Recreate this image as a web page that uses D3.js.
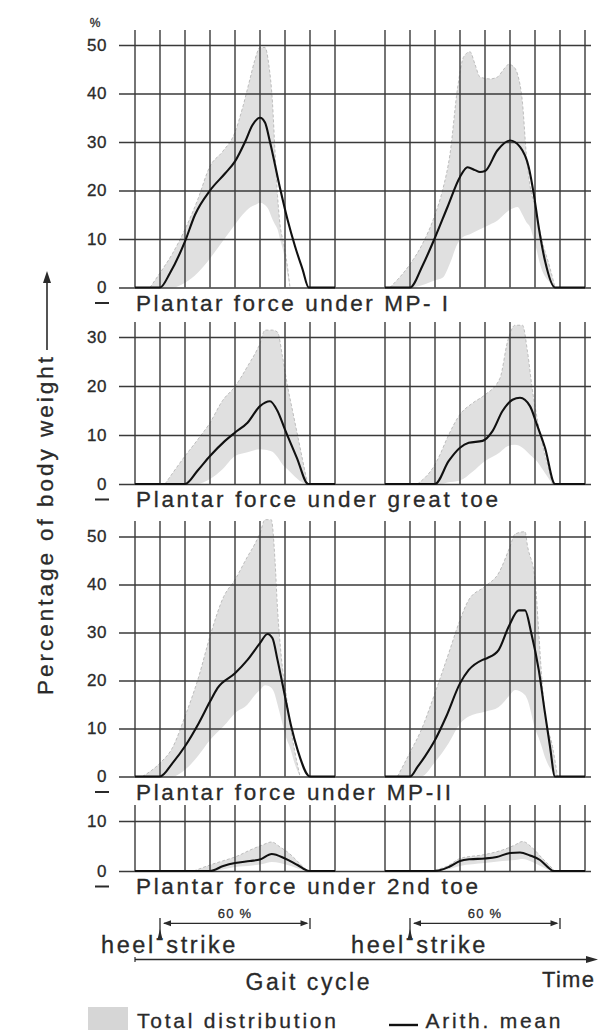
<!DOCTYPE html>
<html>
<head>
<meta charset="utf-8">
<script src="https://cdn.jsdelivr.net/npm/d3@7"></script>
<style>
  html, body { margin: 0; padding: 0; background: #fff; }
  svg { display: block; font-family: "Liberation Sans", Arial, Helvetica, sans-serif; }
  text { stroke: #2a2a2a; stroke-width: 0.3; }
</style>
</head>
<body>
<svg id="chart" width="608" height="1036"></svg>
<script>
// Time runs in percent of the gait cycle: heel strike at 0 and again at 100.
const gridTimes = [-10, 0, 10, 20, 30, 40, 50, 60, 70, 90, 100, 110, 120, 130, 140, 150, 160, 170];
const timeDomain = [-10, 170];

const panelTitles = [
  "Plantar force under MP- I",
  "Plantar force under great toe",
  "Plantar force under MP-II",
  "Plantar force under 2nd toe"
];
const ticksMP1 = [0, 10, 20, 30, 40, 50];
const ticksToe1 = [0, 10, 20, 30];
const ticksMP2 = [0, 10, 20, 30, 40, 50];
const ticksToe2 = [0, 10];

// Arithmetic mean, [time %, percentage of body weight]; "a" = first step, "b" = second step
const meanMP1a = [[-10,0],[0,0],[4,3],[10,9.5],[14,15],[20,20],[26,23.5],[30,26],[34,30],[37,33.5],[40,35],[42,34],[44,30],[48,20.5],[51,14],[54,8.5],[57,3.8],[59.5,0],[70,0]];
const meanMP1b = [[90,0],[100,0],[105,4.5],[110,10.3],[115,16.6],[120,22.8],[123,24.8],[126,24.2],[128,23.8],[130,24],[135,28.3],[140,30.3],[144,29],[147.5,24.8],[149.5,19.3],[151.5,12.4],[154,5.5],[158,0],[170,0]];
const meanToe1a = [[-10,0],[10,0],[15,2.7],[20,5.7],[26,8.8],[30,10.5],[35,12.5],[40,15.9],[44,16.9],[47,14.9],[50,11.1],[54.7,5.4],[59.3,0],[70,0]];
const meanToe1b = [[90,0],[110,0],[115.5,4.7],[120,7.4],[123.5,8.4],[129,8.8],[133,10.8],[137,14.9],[141,17.2],[144,17.6],[148,15.9],[150.7,12.2],[154,7.4],[158,0],[170,0]];
const meanMP2a = [[-10,0],[0,0],[5,2.8],[10,6.3],[15.5,11.1],[20,15.6],[23,18.4],[30,21.5],[35,24.3],[40,27.8],[43,29.7],[45,28.8],[47,24.3],[50,16.7],[52.5,10.4],[55,5.6],[60,0],[70,0]];
const meanMP2b = [[90,0],[100,0],[103,2],[106,4.2],[110,7.6],[114.5,12.5],[120,19.4],[123.5,22.2],[129,24.3],[131,24.7],[135.5,26.4],[139.5,31.25],[143.5,34.6],[146,34.6],[148.5,29.9],[151.5,22.2],[154,13.2],[156,6.25],[158,0],[170,0]];
const meanToe2a = [[-10,0],[20,0],[25.3,1.0],[30,1.6],[36,2.0],[40,2.3],[44.7,3.4],[50,2.5],[55,1.2],[59.7,0],[70,0]];
const meanToe2b = [[90,0],[110,0],[115.7,0.85],[120,2.0],[124,2.35],[130,2.5],[134.7,2.8],[140,3.6],[144,3.7],[148,3.1],[152,2.2],[156,0.4],[157.3,0],[170,0]];

// Total distribution (range of all subjects), [time %, lowest, highest]
const bandMP1a = [[-4,0,0],[0,0,3],[5,0,7],[10,1,12],[15,3,18],[20,6,25],[25,9.5,28],[30,13,32],[33,15,37],[36,16.5,43],[38,17,47],[40,17.5,49.5],[42,17,49.5],[43.5,16,46],[45,14,38],[46,13,28],[47,12,19],[48,10,13],[49.5,7,9],[50.5,4,6],[52,0,0]];
const bandMP1b = [[92,0,0],[100,0,4.8],[105,0.5,9],[110,1.5,15],[113,2,20],[116,5,27.5],[119,9,41],[121.5,10.5,47.6],[124,11,48.6],[126,11.5,46],[128,12,43.4],[132,13,43],[135,13.8,43.4],[137.5,15,45],[139.5,15.9,46],[141.5,16.4,45.5],[143,16.6,44],[145,15,38],[146.5,13.5,27.6],[148,12.5,21],[150,9,16.6],[152.5,4,10.3],[156,1,4],[158,0,0]];
const bandToe1a = [[2,0,0],[10,0,5.7],[15,0,9],[20,1,12.5],[25,3,17],[30,5.7,19.9],[35,6.5,24],[40,7.1,28.7],[42,7,31.4],[45,6.6,31.4],[47,5.5,31],[49,4,26],[51,3,20],[53,2,15],[55,1,10],[57,0.3,5],[59,0,0]];
const bandToe1b = [[103,0,0],[110,0,4],[112,0,6],[115,0.3,9.5],[120,0.7,14.2],[125,2.5,16.5],[130,4.7,18.2],[136,6.5,21.6],[139,7.7,29],[142,8,32.4],[145,7.4,32.4],[147,6.5,27],[149,5.5,19],[151,4.5,13],[153,3,8],[155,1.5,4],[157,0,0]];
const bandMP2a = [[-7,0,0],[0,0,2.8],[5,0,6],[10,1.4,12.5],[15.5,4.5,20.8],[20,7.6,29.2],[25.5,10.5,37.5],[30,13.2,41],[35,15,45.8],[38,17,48.5],[40,18,50.7],[42,19,53.5],[44.5,18.5,53.5],[46,17,45],[47,15,35],[48.5,12,25],[50.5,8,17],[52,6,11],[54,2.5,5],[56,0,0]];
const bandMP2b = [[95,0,0],[100,0,5],[104.5,0,9.7],[110,3,17.4],[115.5,7,25.7],[120,11,32.6],[123.5,12.5,36.8],[130,13.5,39.6],[135.5,14.5,42.4],[140,17,47.9],[142,18,50.5],[146,17,51],[147,16,48],[150,10,41],[151.5,8,30],[152.5,6.5,22],[154,4,13.2],[157,1,6.25],[159,0,0]];
const bandToe2a = [[13.5,0,0],[20,0,1.2],[25,0.3,2],[30,0.8,2.8],[37,1.1,4.4],[41,1.4,5.2],[44.7,1.8,5.8],[48,1.6,4.8],[51,1.2,3.8],[56.5,0.3,1.2],[59,0,0]];
const bandToe2b = [[108,0,0],[115,0.3,1],[120,1,2.5],[130,1.6,3.3],[137,2,4.2],[142,2.2,5.2],[145,2.4,5.9],[149,1.8,4.6],[153,0.8,2.5],[157,0,0.5],[158,0,0]];

const heelStrikes = [0, 100];
const stanceEnds = [60, 160];
const stanceLabel = "60 %";
const yAxisLabel = "Percentage of body weight";
const unitLabel = "%";
const legendLabels = ["Total distribution", "Arith. mean"];

const panels = [
  { title: panelTitles[0], ticks: ticksMP1, means: [meanMP1a, meanMP1b], bands: [bandMP1a, bandMP1b] },
  { title: panelTitles[1], ticks: ticksToe1, means: [meanToe1a, meanToe1b], bands: [bandToe1a, bandToe1b] },
  { title: panelTitles[2], ticks: ticksMP2, means: [meanMP2a, meanMP2b], bands: [bandMP2a, bandMP2b] },
  { title: panelTitles[3], ticks: ticksToe2, means: [meanToe2a, meanToe2b], bands: [bandToe2a, bandToe2b] }
];

// pixel frame of every panel: zero line, top tick line, top of the time lines, caption
const frames = [
  { zero: 287.5, top: 45,    lineTop: 30,  titleY: 311,   titleLen: 312, dashY: 303 },
  { zero: 484,   top: 337,   lineTop: 322, titleY: 507,   titleLen: 362, dashY: 499.5 },
  { zero: 776.5, top: 536.5, lineTop: 521, titleY: 800,   titleLen: 315, dashY: 792 },
  { zero: 871,   top: 821,   lineTop: 805, titleY: 893.5, titleLen: 342, dashY: 886.5 }
];

const ink = "#2a2a2a";
const gridColor = "#3a3a3a";
const bandColor = "#e0e0e0";

const svg = d3.select("#chart");
svg.append("rect").attr("width", 608).attr("height", 1036).attr("fill", "#fff");

const x = d3.scaleLinear().domain(timeDomain).range([135, 585]);
const gridX0 = 119, gridX1 = 591;

panels.forEach((p, i) => {
  const f = frames[i];
  const y = d3.scaleLinear().domain([0, d3.max(p.ticks)]).range([f.zero, f.top]);
  const g = svg.append("g");

  // shaded range of all subjects
  const area = d3.area()
    .x(d => x(d[0])).y0(d => y(d[1])).y1(d => y(d[2]))
    .curve(d3.curveMonotoneX);
  const upper = d3.line().x(d => x(d[0])).y(d => y(d[2])).curve(d3.curveMonotoneX);
  p.bands.forEach(b => {
    g.append("path").attr("d", area(b)).attr("fill", bandColor);
    g.append("path").attr("d", upper(b)).attr("fill", "none")
      .attr("stroke", "#bdbdbd").attr("stroke-width", 1).attr("stroke-dasharray", "3,2");
  });

  // horizontal grid from the y axis ticks
  const axis = d3.axisLeft(y).tickValues(p.ticks).tickSize(-(gridX1 - gridX0)).tickPadding(12).tickFormat(d3.format("d"));
  const ax = g.append("g").attr("transform", `translate(${gridX0},0)`).call(axis);
  ax.select(".domain").remove();
  ax.selectAll(".tick line").attr("stroke", gridColor).attr("stroke-width", 1.4);
  ax.selectAll(".tick text")
    .attr("fill", ink).attr("font-size", 17).attr("letter-spacing", 0.5)
    .attr("font-family", "'Liberation Sans', Arial, sans-serif");

  // vertical time lines
  g.selectAll("line.vt").data(gridTimes).join("line")
    .attr("class", "vt")
    .attr("x1", d => x(d)).attr("x2", d => x(d))
    .attr("y1", f.lineTop).attr("y2", f.zero)
    .attr("stroke", gridColor).attr("stroke-width", 1.4);

  // arithmetic mean
  const line = d3.line().x(d => x(d[0])).y(d => y(d[1])).curve(d3.curveMonotoneX);
  p.means.forEach(m => {
    g.append("path").attr("d", line(m)).attr("fill", "none")
      .attr("stroke", "#111").attr("stroke-width", 2.1).attr("stroke-linejoin", "round");
  });

  // caption under the panel
  g.append("line").attr("x1", 95).attr("x2", 109).attr("y1", f.dashY).attr("y2", f.dashY)
    .attr("stroke", ink).attr("stroke-width", 2);
  g.append("text").attr("x", 136).attr("y", f.titleY)
    .attr("font-size", 22.5).attr("fill", ink)
    .attr("textLength", f.titleLen).attr("lengthAdjust", "spacing")
    .text(p.title);
});

// unit mark above the first panel
svg.append("text").attr("x", 95).attr("y", 27).attr("text-anchor", "middle")
  .attr("font-size", 12).attr("fill", ink).text(unitLabel);

// vertical axis title with upward arrow
svg.append("text")
  .attr("transform", "translate(53,695) rotate(-90)")
  .attr("font-size", 22.5).attr("fill", ink)
  .attr("textLength", 338).attr("lengthAdjust", "spacing")
  .text(yAxisLabel);
svg.append("line").attr("x1", 47).attr("x2", 47).attr("y1", 350).attr("y2", 280)
  .attr("stroke", ink).attr("stroke-width", 1.6);
svg.append("path").attr("d", "M47,271 L43,283 L51,283 Z").attr("fill", ink);

// stance phase markers
const yArrow = 923.3;
heelStrikes.forEach((h, i) => {
  const xs = x(h), xe = x(stanceEnds[i]);
  // heel strike pointer
  svg.append("line").attr("x1", xs).attr("x2", xs).attr("y1", 918).attr("y2", 938)
    .attr("stroke", ink).attr("stroke-width", 1.3);
  svg.append("path").attr("d", `M${xs - 2.2},938 L${xs + 2.2},938 L${xs},929 Z`).attr("fill", ink);
  // 60 % span
  svg.append("line").attr("x1", xs + 4).attr("x2", xe - 3).attr("y1", yArrow).attr("y2", yArrow)
    .attr("stroke", ink).attr("stroke-width", 1.3);
  svg.append("path").attr("d", `M${xs + 3},${yArrow} L${xs + 11},${yArrow - 3} L${xs + 11},${yArrow + 3} Z`).attr("fill", ink);
  svg.append("path").attr("d", `M${xe - 1.5},${yArrow} L${xe - 9.5},${yArrow - 3} L${xe - 9.5},${yArrow + 3} Z`).attr("fill", ink);
  svg.append("line").attr("x1", xe).attr("x2", xe).attr("y1", 918).attr("y2", 929)
    .attr("stroke", ink).attr("stroke-width", 1.3);
  svg.append("text").attr("x", (xs + xe) / 2).attr("y", 917.5).attr("text-anchor", "middle")
    .attr("font-size", 13).attr("fill", ink).attr("letter-spacing", 1.2).text(stanceLabel);
  // "heel-strike" with the hyphen raised to meet the pointer
  const t = svg.append("text").attr("x", xs - 59).attr("y", 952.7)
    .attr("font-size", 23.5).attr("fill", ink).attr("letter-spacing", 2.6);
  t.append("tspan").text("heel");
  t.append("tspan").attr("dy", -8).text("-");
  t.append("tspan").attr("dy", 8).text("strike");
});

// time axis
const yTime = 959.5;
svg.append("line").attr("x1", x(timeDomain[0])).attr("x2", 590).attr("y1", yTime).attr("y2", yTime)
  .attr("stroke", ink).attr("stroke-width", 1.4);
svg.append("line").attr("x1", x(timeDomain[0])).attr("x2", x(timeDomain[0])).attr("y1", yTime - 2.5).attr("y2", yTime + 2.5)
  .attr("stroke", ink).attr("stroke-width", 1.2);
svg.append("path").attr("d", `M598,${yTime} L586,${yTime - 3.5} L586,${yTime + 3.5} Z`).attr("fill", ink);
svg.append("text").attr("x", 307.5).attr("y", 990).attr("text-anchor", "middle")
  .attr("font-size", 23).attr("fill", ink).attr("textLength", 124).attr("lengthAdjust", "spacing")
  .text("Gait cycle");
svg.append("text").attr("x", 542).attr("y", 986.5)
  .attr("font-size", 22).attr("fill", ink).attr("textLength", 52).attr("lengthAdjust", "spacing")
  .text("Time");

// legend
svg.append("rect").attr("x", 88).attr("y", 1007).attr("width", 40).attr("height", 23).attr("fill", "#d6d6d6");
svg.append("text").attr("x", 137).attr("y", 1028)
  .attr("font-size", 21).attr("fill", ink).attr("textLength", 199).attr("lengthAdjust", "spacing")
  .text(legendLabels[0]);
svg.append("line").attr("x1", 389).attr("x2", 418).attr("y1", 1025).attr("y2", 1025)
  .attr("stroke", "#111").attr("stroke-width", 2.4);
svg.append("text").attr("x", 425.5).attr("y", 1028)
  .attr("font-size", 21).attr("fill", ink).attr("textLength", 135).attr("lengthAdjust", "spacing")
  .text(legendLabels[1]);
</script>
</body>
</html>
